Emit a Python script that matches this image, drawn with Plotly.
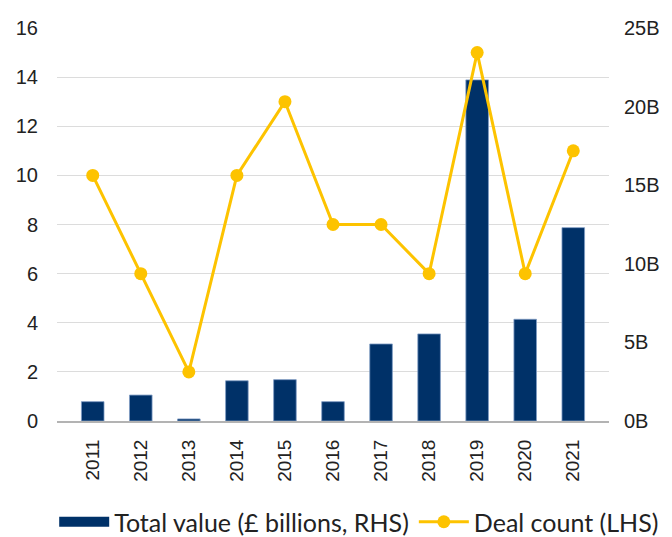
import plotly.graph_objects as go

years = ["2011", "2012", "2013", "2014", "2015", "2016", "2017", "2018", "2019", "2020", "2021"]
total_value_bn = [1.23, 1.65, 0.13, 2.56, 2.63, 1.23, 4.9, 5.54, 21.7, 6.47, 12.3]
deal_count = [10, 6, 2, 10, 13, 8, 8, 6, 15, 6, 11]

NAVY = "#003168"
GOLD = "#FDC300"

fig = go.Figure()
# legend-only entry giving the wide rectangular swatch for the bars
fig.add_trace(go.Scatter(
    x=[years[0]], y=[None], name="Total value (£ billions, RHS)", mode="lines",
    line=dict(color=NAVY, width=12), yaxis="y", hoverinfo="skip",
))
fig.add_trace(go.Bar(
    x=years, y=total_value_bn, name="Total value (£ billions, RHS)",
    marker=dict(color=NAVY, line=dict(color="#7f9cc4", width=0.8)),
    width=0.47, yaxis="y", showlegend=False,
))
fig.add_trace(go.Scatter(
    x=years, y=deal_count, name="Deal count (LHS)", mode="lines+markers",
    line=dict(color=GOLD, width=3), marker=dict(color=GOLD, size=13),
    yaxis="y2",
))

tickfont = dict(family="Liberation Sans", size=20, color="#222222")
# page body has an 8px margin, so the figure is sized/offset to compensate
fig.update_layout(
    width=664, height=529,
    margin=dict(l=49, r=63, t=20, b=116, autoexpand=False),
    plot_bgcolor="white", paper_bgcolor="white",
    xaxis=dict(type="category", tickangle=-90,
               tickfont=dict(family="Liberation Sans", size=19, color="#222222"),
               showline=True, linecolor="#b3b3b3", linewidth=2, ticks="", showgrid=False,
               automargin=False, ticklabelstandoff=9),
    yaxis=dict(side="right", range=[0, 25], tickvals=[0, 5, 10, 15, 20, 25],
               ticktext=["0B", "5B", "10B", "15B", "20B", "25B"], showgrid=False,
               zeroline=False, tickfont=tickfont, ticks="", automargin=False,
               ticklabelstandoff=14),
    yaxis2=dict(side="left", overlaying="y", range=[0, 16], dtick=2, showgrid=True,
                gridcolor="#dcdcdc", gridwidth=1, zeroline=False, tickfont=tickfont,
                ticks="", ticklabelstandoff=18, automargin=False),
    legend=dict(orientation="h", x=1.1, xanchor="right", y=-0.257, yanchor="middle",
                font=dict(family="Lato", size=25, color="#222222"), traceorder="normal",
                itemwidth=50, tracegroupgap=0),
    showlegend=True,
)
fig.write_html("out.html")
